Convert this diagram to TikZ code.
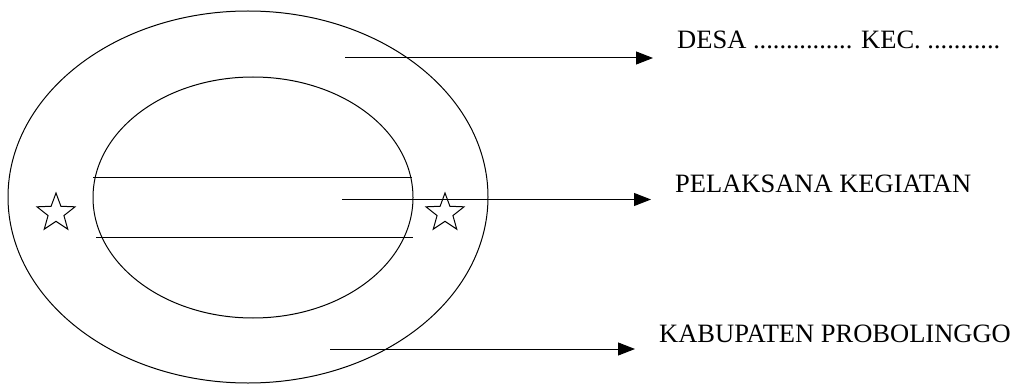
\documentclass[tikz,border=0pt]{standalone}
\usepackage{fontspec}
\setmainfont{Liberation Serif}
\usepackage{tikz}
\usetikzlibrary{shapes.geometric, arrows.meta, positioning, calc}
\tikzstyle{ring} = [draw, ellipse, inner sep=0pt, line width=1pt]
\tikzstyle{mark star} = [draw, star, star points=5, star point ratio=2.4, minimum size=40pt, inner sep=0pt, line width=1pt]
\tikzstyle{label text} = [inner sep=0pt, anchor=base west, font=\fontsize{26.5}{30}\selectfont]
\tikzstyle{pointer} = [-{Triangle[length=17pt, width=13pt]}, line width=1pt, shorten >=24pt]

\begin{document}
\begin{tikzpicture}[x=1pt, y=-1pt]
            \useasboundingbox (0,0) rectangle (1020,385);

            % Rings
            \node[ring, minimum width=480pt, minimum height=372pt] (outer) at (248, 197) {};
            \node[ring, minimum width=320pt, minimum height=241pt] (inner) at (253, 197.5) {};

            % Band across the inner ring
            \draw[line width=1pt] (93, 177) -- (412, 177);
            \draw[line width=1pt] (96, 237) -- (413, 237);

            % Stars
            \node[mark star] (starL) at (56, 213) {};
            \node[mark star] (starR) at (445, 213) {};

            % Labels
            \node[label text] (desa) at (677, 49) {DESA ............... KEC. ...........};
            \node[label text] (pelaksana) at (675, 193) {PELAKSANA KEGIATAN};
            \node[label text] (kabupaten) at (659, 342) {KABUPATEN PROBOLINGGO};

            % Arrows
            \coordinate (desaIn) at (345, 58);
            \coordinate (pelaksanaIn) at (342, 199.5);
            \coordinate (kabupatenIn) at (330, 349);
            \draw[pointer] (desaIn) -- (desaIn -| desa.west);
            \draw[pointer] (pelaksanaIn) -- (pelaksanaIn -| pelaksana.west);
            \draw[pointer] (kabupatenIn) -- (kabupatenIn -| kabupaten.west);
        \end{tikzpicture}
\end{document}
